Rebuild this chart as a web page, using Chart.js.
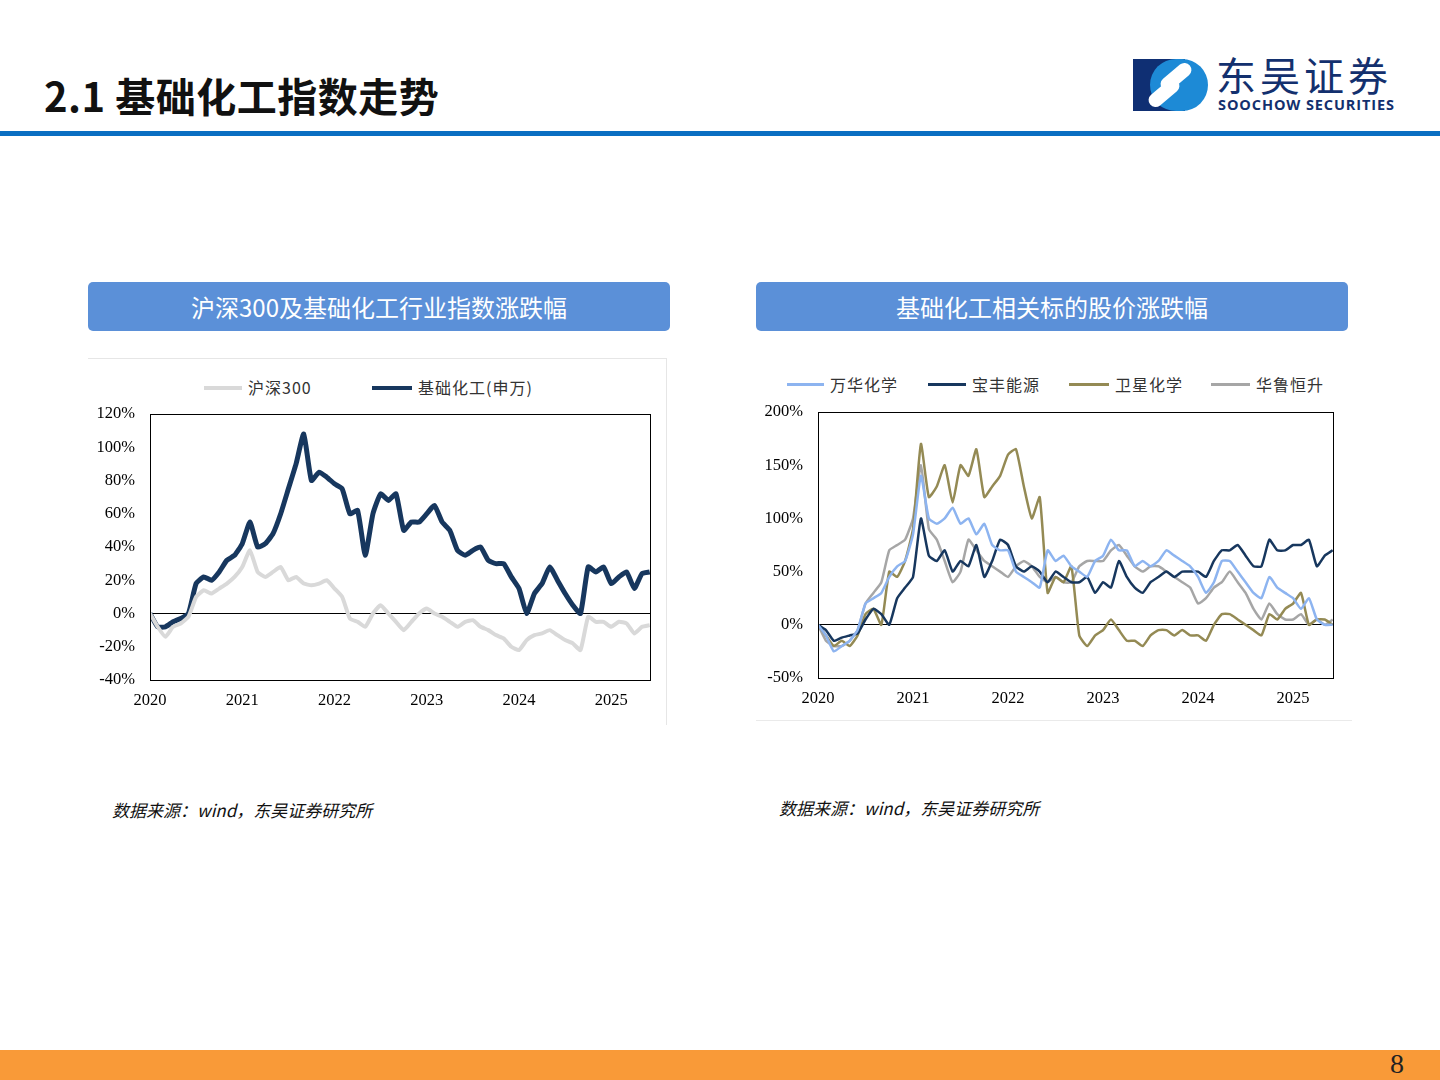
<!DOCTYPE html>
<html><head><meta charset="utf-8">
<script src="https://cdn.jsdelivr.net/npm/chart.js@4"></script>
<style>
body{margin:0;width:1440px;height:1080px;position:relative;background:#fff;font-family:"Noto Sans CJK SC","Noto Sans",sans-serif;overflow:hidden}
.abs{position:absolute}
.title{left:44px;top:66px;font-size:40px;font-weight:bold;color:#111;letter-spacing:0.5px}
.rule{left:0;top:131px;width:1440px;height:5px;background:#0a6fc2}
.box{height:49px;background:#5b90d8;border-radius:5px;color:#fff;font-size:24px;text-align:center;line-height:49px}
.lg{font-family:"Noto Sans CJK SC",serif;font-size:16px;color:#333;top:375px;letter-spacing:1px}
.ln{height:4px;top:386px}
.src{font-style:italic;font-size:17px;color:#111}
</style></head><body>
<div class="abs title">2.1 基础化工指数走势</div>
<div class="abs rule"></div>
<!-- logo -->
<div class="abs" style="left:1133px;top:59px;width:52px;height:52px;background:#0f2f73"></div>
<div class="abs" style="left:1150px;top:59px;width:58px;height:52px;border-radius:26px;background:#1d8ad6"></div>
<div class="abs" style="left:1158px;top:70px;width:36px;height:14px;border-radius:7px;background:#fff;transform:rotate(-40deg)"></div>
<div class="abs" style="left:1146px;top:86px;width:36px;height:14px;border-radius:7px;background:#fff;transform:rotate(-40deg)"></div>
<div class="abs" style="left:1216px;top:50px;font-size:40px;line-height:48px;color:#13306e;letter-spacing:4px">东吴证券</div>
<div class="abs" style="left:1218px;top:96px;font-size:14.5px;line-height:18px;font-weight:bold;color:#13306e;font-family:'Open Sans',sans-serif;letter-spacing:0.9px">SOOCHOW SECURITIES</div>

<div class="abs box" style="left:88px;top:282px;width:582px">沪深300及基础化工行业指数涨跌幅</div>
<div class="abs box" style="left:756px;top:282px;width:592px">基础化工相关标的股价涨跌幅</div>

<div class="abs" style="left:88px;top:358px;width:578px;height:366px;border-top:1px solid #e6e6e6;border-right:1px solid #e6e6e6"></div>
<div class="abs" style="left:756px;top:720px;width:596px;height:1px;background:#eaeaea"></div>

<div class="abs ln" style="left:204px;width:38px;background:#d9d9d9"></div>
<div class="abs lg" style="left:248px">沪深300</div>
<div class="abs ln" style="left:372px;width:40px;background:#17375e"></div>
<div class="abs lg" style="left:418px">基础化工(申万)</div>

<div class="abs ln" style="left:787px;top:383px;height:3px;width:37px;background:#8db4f0"></div>
<div class="abs lg" style="left:830px;top:372px">万华化学</div>
<div class="abs ln" style="left:928px;top:383px;height:3px;width:38px;background:#17375e"></div>
<div class="abs lg" style="left:972px;top:372px">宝丰能源</div>
<div class="abs ln" style="left:1069px;top:383px;height:3px;width:40px;background:#948a54"></div>
<div class="abs lg" style="left:1115px;top:372px">卫星化学</div>
<div class="abs ln" style="left:1211px;top:383px;height:3px;width:39px;background:#a6a6a6"></div>
<div class="abs lg" style="left:1256px;top:372px">华鲁恒升</div>

<div class="abs" style="left:88px;top:358px;width:580px;height:366px"><canvas id="c1" width="580" height="366"></canvas></div>
<div class="abs" style="left:756px;top:358px;width:596px;height:364px"><canvas id="c2" width="596" height="364"></canvas></div>

<div class="abs src" style="left:112px;top:797px">数据来源：wind，东吴证券研究所</div>
<div class="abs src" style="left:779px;top:795px">数据来源：wind，东吴证券研究所</div>

<div class="abs" style="left:0;top:1050px;width:1440px;height:30px;background:#f99a38"></div>
<div class="abs" style="left:1390px;top:1048px;font-size:28px;font-family:'Liberation Serif',serif;color:#222">8</div>

<script>
// monthly values, Jan 2020 .. Jun 2025 (%)
const hs300 = [0,-8,-14,-8,-6,-2,10,14,12,15,18,22, 28,38,25,22,25,28,20,22,18,17,18,20, 15,10,-3,-5,-8,0,5,0,-5,-10,-5,0, 3,0,-2,-5,-8,-5,-4,-8,-10,-13,-15,-20, -22,-16,-13,-12,-10,-13,-16,-18,-22,-2,-5,-5, -8,-5,-6,-12,-8,-7];
const chemIndex = [0,-8,-8,-5,-3,0,18,22,20,25,32,35, 42,55,40,42,48,60,75,90,108,80,85,82, 78,75,60,62,35,60,72,68,72,50,55,55, 60,65,55,50,38,35,38,40,32,30,30,22, 15,0,12,18,28,20,12,5,0,28,25,28, 18,22,25,15,24,25];
const wanhua = [0,-10,-25,-20,-15,-5,20,25,30,45,55,60, 85,140,100,95,100,110,95,100,85,95,75,70, 70,50,45,40,35,70,60,65,55,50,45,60, 65,80,70,70,55,60,55,60,70,65,60,55, 45,30,40,60,60,50,40,30,25,45,35,30, 25,15,25,5,0,0];
const baofeng = [0,-5,-15,-12,-10,-8,5,15,10,0,25,35, 45,100,65,60,70,50,60,55,75,45,60,80, 75,55,50,55,50,40,50,45,40,40,45,30, 40,35,60,45,35,30,40,45,50,45,50,50, 50,45,60,70,70,75,65,55,55,80,70,70, 75,75,80,55,65,70];
const weixing = [0,-10,-20,-15,-20,-10,10,15,0,50,45,60, 90,170,120,130,150,115,150,140,165,120,130,140, 160,165,130,100,120,30,45,40,55,-10,-20,-10, -5,5,-5,-15,-15,-20,-10,-5,-5,-10,-5,-10, -10,-15,0,10,10,5,0,-5,-10,10,5,15, 20,30,0,5,5,0];
const hualu = [0,-15,-20,-20,-15,-5,20,30,40,70,75,80, 100,150,90,80,60,40,50,80,70,60,55,50, 45,55,60,55,45,40,45,40,40,55,60,60, 60,70,75,65,55,50,55,55,50,45,40,35, 20,25,35,40,50,40,30,15,5,20,10,5, 5,10,0,5,0,5];
const yearTicks = [2020,2021,2022,2023,2024,2025];

const pts = a => a.map((v,i)=>({x:2020+i/12, y:v}));
const frame = {id:'frame',afterDatasetsDraw(c){const a=c.chartArea,x=c.ctx;x.save();x.strokeStyle='#000';x.lineWidth=1;x.strokeRect(a.left+.5,a.top+.5,a.right-a.left,a.bottom-a.top);x.restore();}};
const tickFont = {family:'"Liberation Serif",serif',size:16.5};
function make(id,sets,ymin,ymax,step,pad){
  new Chart(document.getElementById(id),{type:'line',
    data:{datasets:sets.map(s=>({data:pts(s[0]),borderColor:s[1],borderWidth:s[2],pointRadius:0,tension:0.15}))},
    options:{responsive:false,animation:false,
      layout:{padding:{top:pad.top,right:pad.right,left:0,bottom:0}},
      plugins:{legend:{display:false},tooltip:{enabled:false}},
      scales:{
        x:{type:'linear',min:2020,max:2025.42,afterBuildTicks:s=>{s.ticks=yearTicks.map(v=>({value:v}));},
           ticks:{font:tickFont,color:'#000',maxRotation:0,autoSkip:false,callback:v=>String(v)},
           grid:{display:false},border:{display:false},afterFit:s=>{s.height=pad.bottom;}},
        y:{min:ymin,max:ymax,ticks:{stepSize:step,font:tickFont,color:'#000',padding:15,callback:v=>v+'%'},
           grid:{color:c=>c.tick&&c.tick.value===0?'#000':'transparent',lineWidth:1,drawTicks:false},
           border:{display:false},afterFit:s=>{s.width=pad.left;}}
      }},plugins:[frame]});
}
make('c1',[[hs300,'#d9d9d9',4],[chemIndex,'#17375e',5]],-40,120,20,{top:56,right:18,bottom:44,left:62});
make('c2',[[wanhua,'#8db4f0',2.5],[baofeng,'#17375e',2.5],[weixing,'#948a54',2.5],[hualu,'#a6a6a6',2.5]],-50,200,50,{top:54,right:19,bottom:44,left:62});
</script>
</body></html>
